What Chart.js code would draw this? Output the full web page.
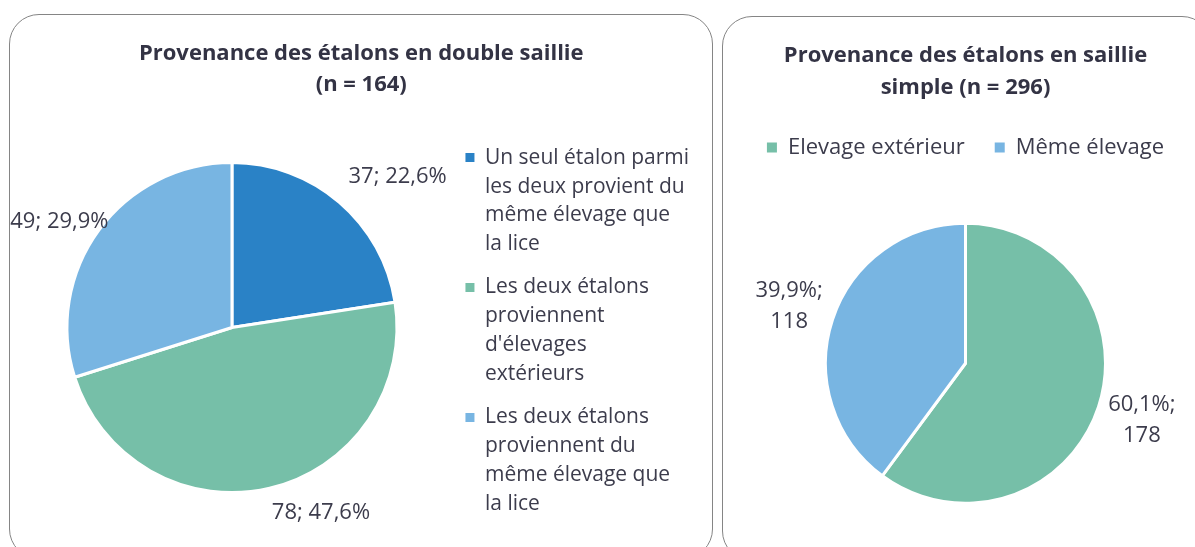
<!DOCTYPE html>
<html>
<head>
<meta charset="utf-8">
<script src="https://cdn.jsdelivr.net/npm/chart.js@4/dist/chart.umd.min.js"></script>
<style>
  html, body { margin: 0; padding: 0; background: #fff; overflow: hidden; }
  body { width: 1195px; height: 547px; position: relative; }
  .panel { position: absolute; border: 1.5px solid #858585; border-radius: 30px; box-sizing: border-box; background: #fff; }
  .panel canvas { position: absolute; left: 0; top: 0; }
</style>
</head>
<body>
<div class="panel" style="left:9px; top:14px; width:704px; height:545px;">
  <canvas id="doubleChart" width="702" height="533"></canvas>
</div>
<div class="panel" style="left:722px; top:16px; width:490px; height:545px;">
  <canvas id="simpleChart" width="488" height="545"></canvas>
</div>
<script>
// double saillie (n = 164)
const doubleLabels = [
  ["Un seul étalon parmi", "les deux provient du", "même élevage que", "la lice"],
  ["Les deux étalons", "proviennent", "d'élevages", "extérieurs"],
  ["Les deux étalons", "proviennent du", "même élevage que", "la lice"]
];
const doubleValues = [37, 78, 49];
const doubleColors = ["#2A82C6", "#76BFA8", "#78B5E2"];

// saillie simple (n = 296)
const simpleLabels = ["Elevage extérieur", "Même élevage"];
const simpleValues = [178, 118];
const simpleColors = ["#76BFA8", "#78B5E2"];

const textColor = "#3C3C4C";
const titleColor = "#333344";
const fontFamily = "'Open Sans', sans-serif";

function pct(v, values) {
  const total = values.reduce((a, b) => a + b, 0);
  return (v / total * 100).toFixed(1).replace(".", ",");
}

// draws the value / percent text outside each slice
const outsideLabels = {
  id: "outsideLabels",
  afterDatasetsDraw(chart, args, opts) {
    const ctx = chart.ctx;
    const meta = chart.getDatasetMeta(0);
    const values = chart.data.datasets[0].data;
    ctx.save();
    ctx.font = opts.size + "px " + fontFamily;
    ctx.fillStyle = textColor;
    ctx.textAlign = "center";
    ctx.textBaseline = "middle";
    meta.data.forEach(function (arc, i) {
      const p = arc.getProps(["x", "y", "startAngle", "endAngle", "outerRadius"], true);
      const mid = (p.startAngle + p.endAngle) / 2;
      const lines = opts.format(values[i], pct(values[i], values));
      const lh = opts.size * 1.38;
      const w = Math.max.apply(null, lines.map(l => ctx.measureText(l).width));
      const h = lines.length * lh;
      const r = p.outerRadius + opts.offsets[i];
      const cos = Math.cos(mid), sin = Math.sin(mid);
      // corner mode pushes the whole box out, otherwise it follows the angle
      const kx = opts.corner ? Math.sign(cos) : cos;
      const ky = opts.corner ? Math.sign(sin) : sin;
      const cx = p.x + cos * r + kx * w / 2;
      const cy = p.y + sin * r + ky * h / 2;
      lines.forEach(function (line, j) {
        ctx.fillText(line, cx, cy - h / 2 + lh * (j + 0.5));
      });
    });
    ctx.restore();
  }
};

function legendItems(chart) {
  const items = Chart.controllers.pie.overrides.plugins.legend.labels.generateLabels(chart);
  items.forEach(it => { it.lineWidth = 0; it.strokeStyle = "transparent"; });
  return items;
}

new Chart(document.getElementById("doubleChart"), {
  type: "pie",
  data: {
    labels: doubleLabels,
    datasets: [{
      data: doubleValues,
      backgroundColor: doubleColors,
      borderColor: "#fff",
      borderWidth: 3
    }]
  },
  plugins: [outsideLabels],
  options: {
    responsive: false,
    animation: false,
    radius: 165,
    layout: { padding: { left: 2.5, right: 2, bottom: 0.5 } },
    plugins: {
      title: {
        display: true,
        text: ["Provenance des étalons en double saillie", "(n = 164)"],
        color: titleColor,
        font: { family: fontFamily, size: 22, weight: "bold", lineHeight: 1.41 },
        padding: { top: 23, bottom: 7.5 }
      },
      legend: {
        position: "right",
        align: "start",
        fullSize: false,
        // empty title only used as a spacer above the first item
        title: { display: true, text: "", font: { size: 1, lineHeight: 1 }, padding: { top: 24.5, bottom: 0 } },
        labels: {
          color: textColor,
          font: { family: fontFamily, size: 21, lineHeight: 1.38 },
          boxWidth: 9,
          boxHeight: 9,
          padding: 14,
          generateLabels: function (chart) {
            const items = legendItems(chart);
            // a little extra room so the title stays centred on the panel
            items[0].text = items[0].text.slice();
            items[0].text[0] += "\u00A0\u00A0";
            return items;
          }
        }
      },
      tooltip: { enabled: false },
      outsideLabels: {
        size: 22,
        offsets: [14, 10, -12],
        corner: true,
        format: (v, p) => [v + "; " + p + "%"]
      }
    }
  }
});

new Chart(document.getElementById("simpleChart"), {
  type: "pie",
  data: {
    labels: simpleLabels,
    datasets: [{
      data: simpleValues,
      backgroundColor: simpleColors,
      borderColor: "#fff",
      borderWidth: 3
    }]
  },
  plugins: [outsideLabels],
  options: {
    responsive: false,
    animation: false,
    radius: 140,
    layout: { padding: { left: 8, right: 11, bottom: 4 } },
    plugins: {
      title: {
        display: true,
        text: ["Provenance des étalons en saillie", "simple (n = 296)"],
        color: titleColor,
        font: { family: fontFamily, size: 22, weight: "bold", lineHeight: 1.455 },
        padding: { top: 22.5, bottom: 3 }
      },
      legend: {
        position: "top",
        labels: {
          color: textColor,
          font: { family: fontFamily, size: 22 },
          boxWidth: 10,
          boxHeight: 10,
          padding: 30,
          generateLabels: legendItems
        }
      },
      tooltip: { enabled: false },
      outsideLabels: {
        size: 22,
        offsets: [12, 12],
        corner: false,
        format: (v, p) => [p + "%;", String(v)]
      }
    }
  }
});
</script>
</body>
</html>
